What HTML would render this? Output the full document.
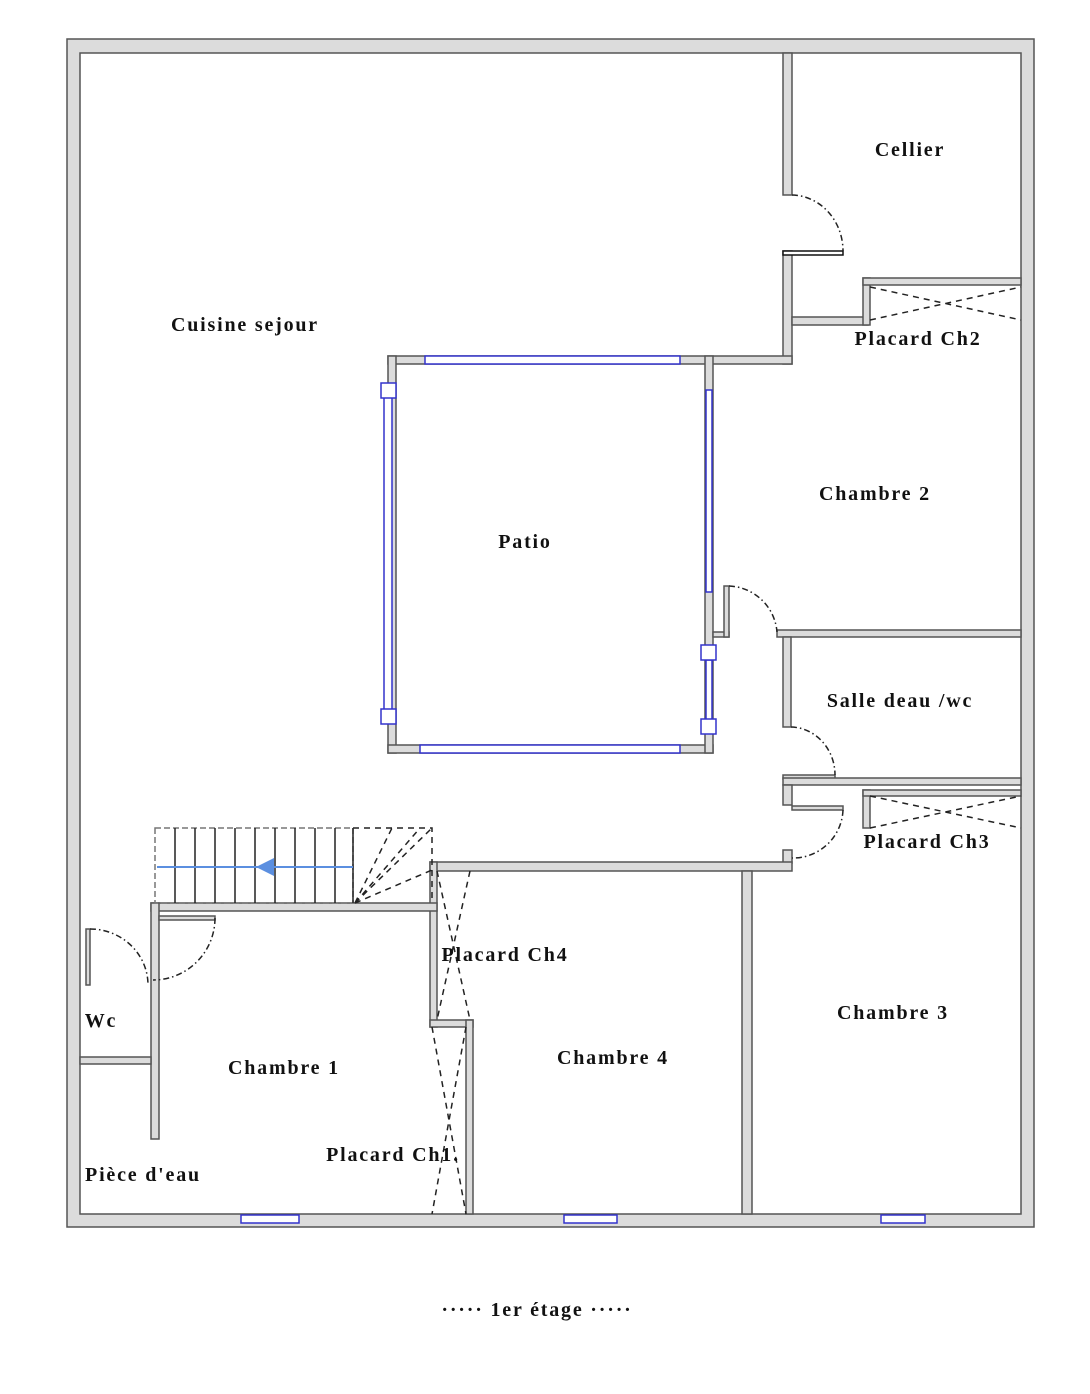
<!DOCTYPE html>
<html><head><meta charset="utf-8"><style>
html,body{margin:0;padding:0;background:#fff;}
svg{display:block}
text{font-family:"Liberation Serif",serif;font-weight:bold;font-size:20px;letter-spacing:1.8px;fill:#111;text-anchor:middle}
</style></head><body>
<svg width="1090" height="1394" viewBox="0 0 1090 1394" xmlns="http://www.w3.org/2000/svg">
<g fill="#dcdcdc" stroke="#555" stroke-width="1.5">
<path d="M67,39 H1034 V1227 H67 Z M80,53 V1214 H1021 V53 Z" fill-rule="evenodd"/>
<rect x="783" y="53" width="9" height="142"/>
<rect x="783" y="251" width="9" height="113"/>
<rect x="792" y="317" width="76" height="8"/>
<rect x="863" y="278" width="7" height="47"/>
<rect x="863" y="278" width="158" height="7"/>
<rect x="388" y="356" width="404" height="8"/>
<rect x="388" y="356" width="8" height="397"/>
<rect x="388" y="745" width="325" height="8"/>
<rect x="705" y="356" width="8" height="397"/>
<rect x="713" y="632" width="16" height="5"/>
<rect x="724" y="586" width="5" height="51"/>
<rect x="777" y="630" width="244" height="7"/>
<rect x="783" y="637" width="8" height="90"/>
<rect x="783" y="775" width="52" height="4"/>
<rect x="783" y="778" width="238" height="7"/>
<rect x="783" y="785" width="9" height="20"/>
<rect x="792" y="806" width="51" height="4"/>
<rect x="863" y="790" width="7" height="38"/>
<rect x="863" y="790" width="158" height="6"/>
<rect x="783" y="850" width="9" height="13"/>
<rect x="430" y="862" width="362" height="9"/>
<rect x="742" y="871" width="10" height="343"/>
<rect x="430" y="862" width="7" height="165"/>
<rect x="430" y="1020" width="43" height="7"/>
<rect x="466" y="1020" width="7" height="194"/>
<rect x="151" y="903" width="286" height="8"/>
<rect x="151" y="903" width="8" height="236"/>
<rect x="159" y="916" width="56" height="4"/>
<rect x="86" y="929" width="4" height="56"/>
<rect x="80" y="1057" width="71" height="7"/>
</g>
<rect x="783" y="251" width="60" height="4" fill="#fff" stroke="#111" stroke-width="1.5"/>
<g fill="#fff" stroke="#3333cc" stroke-width="1.5">
<rect x="425" y="356" width="255" height="8"/>
<rect x="420" y="745" width="260" height="8"/>
<rect x="384" y="395" width="8" height="320"/>
<rect x="706" y="390" width="6" height="202"/>
<rect x="706" y="660" width="6" height="60"/>
<rect x="381" y="383" width="15" height="15"/>
<rect x="381" y="709" width="15" height="15"/>
<rect x="701" y="645" width="15" height="15"/>
<rect x="701" y="719" width="15" height="15"/>
</g>
<g fill="#fff" stroke="#3333cc" stroke-width="1.5">
<rect x="241" y="1215" width="58" height="8"/>
<rect x="564" y="1215" width="53" height="8"/>
<rect x="881" y="1215" width="44" height="8"/>
</g>
<g fill="none" stroke="#222" stroke-width="1.5" stroke-dasharray="6,3,1.5,3">
<path d="M792,195 A52,56 0 0 1 843,251"/>
<path d="M729,586 A50,50 0 0 1 777,632"/>
<path d="M791,727 A45,48 0 0 1 835,775"/>
<path d="M843,810 A50,50 0 0 1 792,858"/>
<path d="M215,918 A62,62 0 0 1 153,980"/>
<path d="M90,929 A58,56 0 0 1 148,985"/>
</g>
<g fill="none" stroke="#222" stroke-width="1.5" stroke-dasharray="6,5">
<path d="M870,287 L1021,320 M870,320 L1021,287"/>
<path d="M870,796 L1021,828 M870,828 L1021,796"/>
<path d="M437,871 L470,1020 M470,871 L437,1020"/>
<path d="M432,1027 L466,1214 M466,1027 L432,1214"/>
<path d="M353,828 H432 V903 M355,903 L432,828 M355,903 L420,828 M355,903 L392,828 M355,903 L432,870"/>
</g>
<g fill="none" stroke="#222" stroke-width="1.5">
<rect x="155" y="828" width="198" height="75" stroke="#777" stroke-dasharray="6,3"/>
<path d="M175,828V903 M195,828V903 M215,828V903 M235,828V903 M255,828V903 M275,828V903 M295,828V903 M315,828V903 M335,828V903 M353,828V903"/>
</g>
<line x1="157" y1="867" x2="353" y2="867" stroke="#5b8fe0" stroke-width="2"/>
<polygon points="256,867 274,858 274,876" fill="#5b8fe0"/>
<text x="245" y="331">Cuisine sejour</text>
<text x="910" y="156">Cellier</text>
<text x="918" y="345">Placard Ch2</text>
<text x="875" y="500">Chambre 2</text>
<text x="525" y="548">Patio</text>
<text x="900" y="707">Salle deau /wc</text>
<text x="927" y="848">Placard Ch3</text>
<text x="505" y="961">Placard Ch4</text>
<text x="101" y="1027">Wc</text>
<text x="284" y="1074">Chambre 1</text>
<text x="613" y="1064">Chambre 4</text>
<text x="893" y="1019">Chambre 3</text>
<text x="393" y="1161">Placard Ch1.</text>
<text x="143" y="1181">Pièce d'eau</text>
<text x="537" y="1316">····· 1er étage ·····</text>
</svg>
</body></html>
